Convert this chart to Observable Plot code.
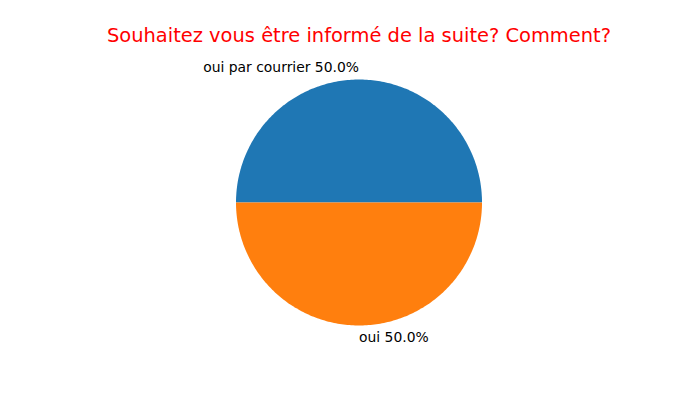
<!DOCTYPE html>
<html>
<head>
<meta charset="utf-8">
<script src="https://cdn.jsdelivr.net/npm/d3@7"></script>
<script src="https://cdn.jsdelivr.net/npm/@observablehq/plot@0.6"></script>
<style>
  html, body { margin: 0; padding: 0; background: #fff; }
</style>
</head>
<body>
<div id="chart"></div>
<script>
// Data
const labels = ["oui par courrier", "oui"];
const values = [50, 50];
const colors = ["#1f77b4", "#ff7f0e"];
const title = "Souhaitez vous être informé de la suite? Comment?";

const W = 700, H = 400;
const cx = 358.5, cy = 202, R = 123; // pixel geometry of the pie

const total = d3.sum(values);
let acc = 0;
const slices = values.map((v, i) => {
  const t1 = acc / total * 2 * Math.PI;
  acc += v;
  const t2 = acc / total * 2 * Math.PI;
  return {label: labels[i], value: v, color: colors[i], t1, t2, pct: (v / total * 100).toFixed(1) + "%"};
});

function arcPoints(s) {
  const pts = [{x: 0, y: 0}];
  const n = 200;
  for (let k = 0; k <= n; k++) {
    const t = s.t1 + (s.t2 - s.t1) * k / n;
    pts.push({x: Math.cos(t), y: Math.sin(t)});
  }
  pts.push({x: 0, y: 0});
  return pts;
}

const labelData = slices.map(s => {
  const tm = (s.t1 + s.t2) / 2;
  const x = 1.1 * Math.cos(tm), y = 1.1 * Math.sin(tm);
  return {x, y, text: s.label + " " + s.pct, anchor: y > 0 ? "end" : "start"};
});

const marks = [];
slices.forEach(s => {
  marks.push(Plot.line(arcPoints(s), {x: "x", y: "y", fill: s.color, stroke: "none", curve: "linear"}));
});
marks.push(Plot.text(labelData.filter(d => d.anchor === "end"), {x: "x", y: "y", text: "text", textAnchor: "end", lineAnchor: "middle", fontSize: 13.9, fill: "black"}));
marks.push(Plot.text(labelData.filter(d => d.anchor === "start"), {x: "x", y: "y", text: "text", textAnchor: "start", lineAnchor: "middle", fontSize: 13.9, fill: "black"}));
marks.push(Plot.text([title], {x: () => 0, y: () => (cy - 41) / R, text: d => d, textAnchor: "middle", lineAnchor: "bottom", fontSize: 19.44, fill: "red"}));

const chart = Plot.plot({
  width: W,
  height: H,
  margin: 0,
  style: {fontFamily: "DejaVu Sans", background: "#fff", overflow: "visible"},
  x: {domain: [-cx / R, (W - cx) / R], range: [0, W], axis: null},
  y: {domain: [(cy - H) / R, cy / R], range: [H, 0], axis: null},
  marks
});
document.getElementById("chart").appendChild(chart);
</script>
</body>
</html>
